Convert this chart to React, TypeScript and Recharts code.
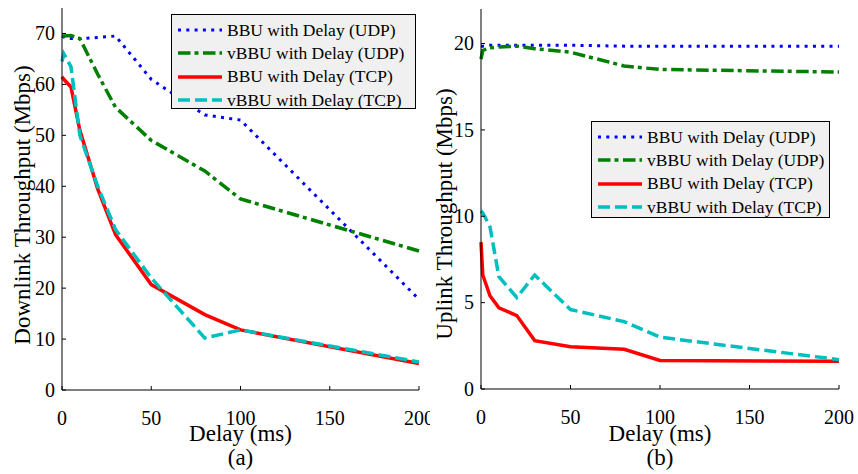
import { LineChart, Line, XAxis, YAxis, Legend, Label } from 'recharts';

// Delay settings (ms) shared by both panels
const delays = [0, 1, 5, 10, 20, 30, 50, 80, 100, 200];

// (a) downlink throughput, Mbps
const dlBbuUdp = [69.5, 69.3, 69.0, 69.0, 69.2, 69.5, 61.0, 54.0, 53.0, 17.8];
const dlVbbuUdp = [69.5, 69.5, 69.6, 69.0, 62.0, 55.5, 49.0, 43.0, 37.5, 27.3];
const dlBbuTcp = [61.5, 61.0, 59.5, 51.0, 39.5, 30.5, 20.7, 14.8, 11.8, 5.2];
const dlVbbuTcp = [64.5, 66.0, 63.5, 50.0, 40.0, 31.5, 22.0, 10.2, 11.8, 5.5];

// (b) uplink throughput, Mbps
const ulBbuUdp = [19.85, 19.85, 19.9, 19.9, 19.9, 19.9, 19.9, 19.85, 19.85, 19.85];
const ulVbbuUdp = [19.1, 19.6, 19.75, 19.8, 19.85, 19.7, 19.5, 18.7, 18.5, 18.35];
const ulBbuTcp = [8.5, 6.6, 5.4, 4.7, 4.25, 2.8, 2.45, 2.3, 1.65, 1.6];
const ulVbbuTcp = [10.3, 10.2, 9.4, 6.5, 5.3, 6.6, 4.6, 3.9, 3.0, 1.7];

const xTicks = [0, 50, 100, 150, 200];
const dlTicks = [0, 10, 20, 30, 40, 50, 60, 70];
const ulTicks = [0, 5, 10, 15, 20];

const FONT = 'Liberation Serif';

// matlab-ish line styles, in legend order (last one is drawn on top)
const SERIES = [
  { key: 'bbuUdp', name: 'BBU with Delay (UDP)', color: '#0000ff', dash: '3 5.3', width: 3 },
  { key: 'vbbuUdp', name: 'vBBU with Delay (UDP)', color: '#008000', dash: '12.5 4 4 4.5', width: 3.5 },
  { key: 'bbuTcp', name: 'BBU with Delay (TCP)', color: '#ff0000', dash: undefined, width: 3.5 },
  { key: 'vbbuTcp', name: 'vBBU with Delay (TCP)', color: '#00bfbf', dash: '12 5', width: 3.5 },
];

const dlData = delays.map((d, i) => ({
  delay: d, bbuUdp: dlBbuUdp[i], vbbuUdp: dlVbbuUdp[i], bbuTcp: dlBbuTcp[i], vbbuTcp: dlVbbuTcp[i],
}));
const ulData = delays.map((d, i) => ({
  delay: d, bbuUdp: ulBbuUdp[i], vbbuUdp: ulVbbuUdp[i], bbuTcp: ulBbuTcp[i], vbbuTcp: ulVbbuTcp[i],
}));

// tick text drawn by hand so font and size are explicit
function XTick({ x, y, payload }: any) {
  return (
    <text x={x} y={y} dy="0.71em" textAnchor="middle" fontFamily={FONT} fontSize={20} fill="#000">
      {payload.value}
    </text>
  );
}

function YTick({ x, y, payload }: any) {
  return (
    <text x={x} y={y} dy="0.34em" textAnchor="end" fontFamily={FONT} fontSize={20} fill="#000">
      {payload.value}
    </text>
  );
}

// x-axis title: baseline sits `fromBottom` px above the bottom of the axis box
const xTitle = (text: string, fromBottom: number) => ({ viewBox }: any) => (
  <text x={viewBox.x + viewBox.width / 2} y={viewBox.y + viewBox.height - fromBottom}
    textAnchor="middle" fontFamily={FONT} fontSize={23} fill="#000">
    {text}
  </text>
);

// rotated y-axis title centred on (cx, cy)
const yTitle = (text: string, cxOff: number, cy: number) => ({ viewBox }: any) => {
  const cx = viewBox.x + cxOff;
  return (
    <text x={cx} y={cy} dy="0.33em" textAnchor="middle" transform={`rotate(-90 ${cx} ${cy})`}
      fontFamily={FONT} fontSize={23} fill="#000">
      {text}
    </text>
  );
};

function LegendBox({ width, height }: { width: number; height: number }) {
  return (
    <div style={{
      width, height, boxSizing: 'border-box', background: '#f0f0f0', border: '1px solid #000',
      paddingTop: 3.5, fontFamily: FONT, fontSize: 17.5, color: '#000',
    }}>
      {SERIES.map((s) => (
        <div key={s.key} style={{ display: 'flex', alignItems: 'center', height: 23.3, whiteSpace: 'nowrap' }}>
          <svg width={52} height={10} style={{ flex: 'none' }}>
            <line x1={6} x2={50} y1={5} y2={5} stroke={s.color} strokeWidth={s.width} strokeDasharray={s.dash} />
          </svg>
          <span style={{ marginLeft: 3 }}>{s.name}</span>
        </div>
      ))}
    </div>
  );
}

interface PanelProps {
  data: typeof dlData;
  width: number;
  margin: { top: number; right: number; bottom: number; left: number };
  yWidth: number;
  xHeight: number;
  yDomain: [number, number];
  yTicks: number[];
  yLabel: string;
  yLabelX: number;
  yLabelY: number;
  caption: string;
  legendPos: { left: number; top: number; width: number; height: number };
}

function Panel(p: PanelProps) {
  return (
    <LineChart width={p.width} height={474} data={p.data} margin={p.margin}>
      {/* bottom / left axes carry the labels; ticks point inward */}
      <XAxis xAxisId="b" dataKey="delay" type="number" domain={[0, 200]} ticks={xTicks} interval={0}
        height={p.xHeight} tickSize={-4} tickMargin={25} stroke="#000" tick={<XTick />}>
        <Label content={xTitle('Delay (ms)', 33)} />
        <Label content={xTitle(p.caption, 9)} />
      </XAxis>
      <YAxis yAxisId="l" type="number" domain={p.yDomain} ticks={p.yTicks} interval={0}
        width={p.yWidth} tickSize={-4} tickMargin={11} stroke="#000" tick={<YTick />}>
        <Label content={yTitle(p.yLabel, p.yLabelX, p.yLabelY)} />
      </YAxis>
      {/* top / right axes just close the box */}
      <XAxis xAxisId="t" orientation="top" dataKey="delay" type="number" domain={[0, 200]} ticks={xTicks}
        interval={0} height={0} mirror tickSize={4} tickFormatter={() => ''} stroke="#000" />
      <YAxis yAxisId="r" orientation="right" type="number" domain={p.yDomain} ticks={p.yTicks}
        interval={0} width={0} mirror tickSize={4} tickFormatter={() => ''} stroke="#000" />
      <Legend layout="vertical" align="center" verticalAlign="middle"
        wrapperStyle={{ left: p.legendPos.left, top: p.legendPos.top, width: p.legendPos.width }}
        content={() => <LegendBox width={p.legendPos.width} height={p.legendPos.height} />} />
      {SERIES.map((s) => (
        <Line key={s.key} xAxisId="b" yAxisId="l" type="linear" dataKey={s.key} name={s.name}
          stroke={s.color} strokeWidth={s.width} strokeDasharray={s.dash} dot={false}
          isAnimationActive={false} />
      ))}
    </LineChart>
  );
}

export default function App() {
  return (
    <div style={{ position: 'absolute', left: 0, top: 0, width: 858, height: 474, background: '#fff', display: 'flex' }}>
      <Panel data={dlData} width={430} margin={{ top: 8, right: 11, bottom: 0, left: 0 }}
        yWidth={62} xHeight={84} yDomain={[0, 75]} yTicks={dlTicks}
        yLabel="Downlink Throughput (Mbps)" yLabelX={22} yLabelY={205} caption="(a)"
        legendPos={{ left: 171, top: 14, width: 245, height: 95 }} />
      <Panel data={ulData} width={428} margin={{ top: 9, right: 19, bottom: 0, left: 0 }}
        yWidth={51} xHeight={85} yDomain={[0, 22]} yTicks={ulTicks}
        yLabel="Uplink Throughput (Mbps)" yLabelX={14} yLabelY={214} caption="(b)"
        legendPos={{ left: 161, top: 121, width: 239, height: 97 }} />
    </div>
  );
}
